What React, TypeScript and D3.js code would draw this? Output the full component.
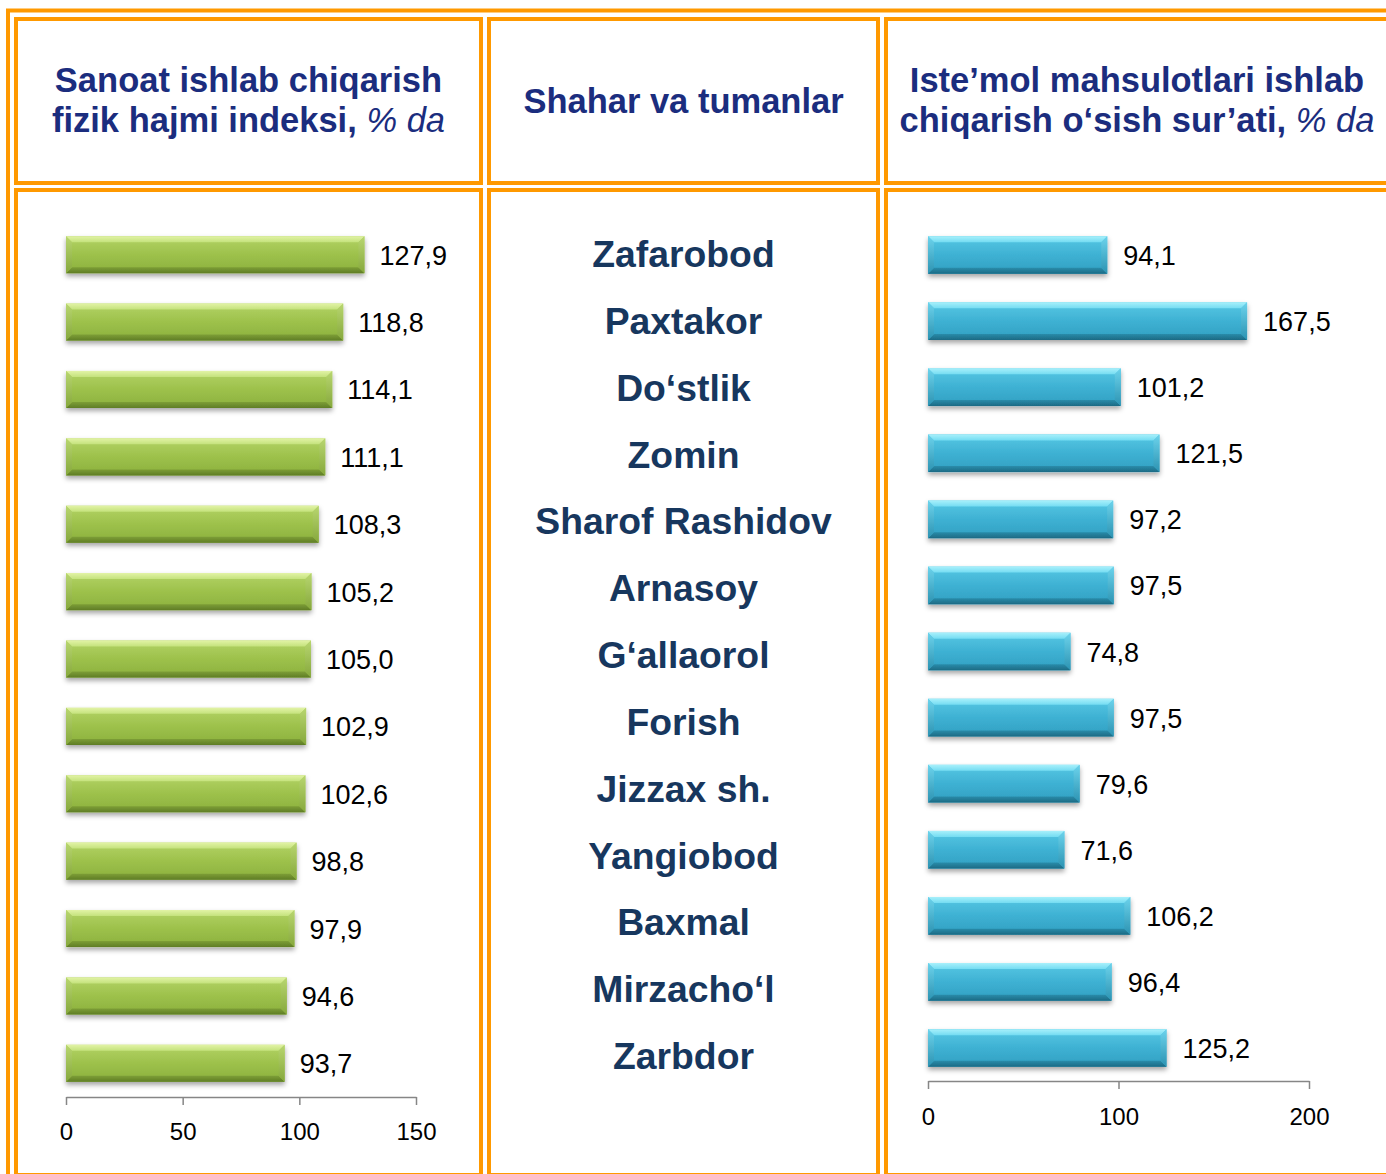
import { useEffect, useRef } from 'react';
import * as d3 from 'd3';

// districts, top to bottom
const districts = [
  'Zafarobod',
  'Paxtakor',
  'Do‘stlik',
  'Zomin',
  'Sharof Rashidov',
  'Arnasoy',
  'G‘allaorol',
  'Forish',
  'Jizzax sh.',
  'Yangiobod',
  'Baxmal',
  'Mirzacho‘l',
  'Zarbdor',
];

// Sanoat ishlab chiqarish fizik hajmi indeksi, % da
const industryIndex = [127.9, 118.8, 114.1, 111.1, 108.3, 105.2, 105.0, 102.9, 102.6, 98.8, 97.9, 94.6, 93.7];

// Iste'mol mahsulotlari ishlab chiqarish o'sish sur'ati, % da
const consumerGrowth = [94.1, 167.5, 101.2, 121.5, 97.2, 97.5, 74.8, 97.5, 79.6, 71.6, 106.2, 96.4, 125.2];

const leftTicks = [0, 50, 100, 150];
const rightTicks = [0, 100, 200];

const W = 1386;
const H = 1174;
const ORANGE = '#ff9900';
const HEAD = '#1b2d7e';
const NAME = '#17375e';
const FONT = '"Liberation Sans", Arial, sans-serif';

const fmt = (v: number) => v.toFixed(1).replace('.', ',');

interface BarProps {
  x0: number;
  x1: number;
  y: number;
  h: number;
  id: string;
}

// bevelled bar, like the Office "soft edge" style
function Bar({ x0, x1, y, h, id }: BarProps) {
  const b = 6;
  const w = x1 - x0;
  return (
    <g filter="url(#shadow)">
      <rect x={x0} y={y} width={w} height={h} fill={`url(#${id}-body)`} />
      <polygon points={`${x0},${y} ${x1},${y} ${x1 - b},${y + b} ${x0 + b},${y + b}`} fill={`url(#${id}-top)`} />
      <polygon
        points={`${x0},${y + h} ${x1},${y + h} ${x1 - b},${y + h - b} ${x0 + b},${y + h - b}`}
        fill={`url(#${id}-bot)`}
      />
      <polygon points={`${x1},${y} ${x1},${y + h} ${x1 - b},${y + h - b} ${x1 - b},${y + b}`} fill={`url(#${id}-side)`} />
      <polygon points={`${x0},${y} ${x0},${y + h} ${x0 + b},${y + h - b} ${x0 + b},${y + b}`} fill={`url(#${id}-side)`} />
    </g>
  );
}

function Grad({ id, stops }: { id: string; stops: [number, string][] }) {
  return (
    <linearGradient id={id} x1="0" y1="0" x2="0" y2="1">
      {stops.map(([o, c], i) => (
        <stop key={i} offset={o} stopColor={c} />
      ))}
    </linearGradient>
  );
}

export default function App() {
  const leftAxisRef = useRef<SVGGElement>(null);
  const rightAxisRef = useRef<SVGGElement>(null);

  const xL = d3.scaleLinear([0, 150], [66, 416]);
  const yL = d3.scaleBand(districts, [221, 1097]).paddingInner(0.45).paddingOuter(0.225);

  const xR = d3.scaleLinear([0, 200], [928, 1309]);
  const yR = d3.scaleBand(districts, [222, 1081]).paddingInner(0.43).paddingOuter(0.215);

  const yN = d3.scalePoint(districts, [254, 1056]);

  useEffect(() => {
    const style = (g: d3.Selection<SVGGElement, unknown, null, undefined>) => {
      g.select('.domain').attr('stroke', '#868686').attr('stroke-width', 1.5);
      g.selectAll('.tick line').attr('stroke', '#868686').attr('stroke-width', 1.5);
      g.selectAll('.tick text').attr('fill', '#000').attr('font-size', 24).attr('font-family', FONT);
    };
    if (leftAxisRef.current) {
      const g = d3.select(leftAxisRef.current);
      g.selectAll('*').remove();
      g.call(d3.axisBottom(xL).tickValues(leftTicks).tickSize(8).tickSizeOuter(0).tickPadding(18).tickFormat(d3.format('d')))
        .call(style);
    }
    if (rightAxisRef.current) {
      const g = d3.select(rightAxisRef.current);
      g.selectAll('*').remove();
      g.call(d3.axisBottom(xR).tickValues(rightTicks).tickSize(8).tickSizeOuter(0).tickPadding(19).tickFormat(d3.format('d')))
        .call(style);
    }
  }, []);

  const box = (x0: number, y0: number, x1: number, y1: number) => (
    <rect x={x0} y={y0} width={x1 - x0} height={y1 - y0} fill="#fff" stroke={ORANGE} strokeWidth={4} />
  );

  return (
    <svg
      width={W}
      height={H}
      viewBox={`0 0 ${W} ${H}`}
      style={{ position: 'absolute', left: 0, top: 0, display: 'block', background: '#fff' }}
    >
      <defs>
        <filter id="shadow" x="-5%" y="-30%" width="110%" height="180%">
          <feDropShadow dx="0" dy="3" stdDeviation="2.5" floodColor="#000" floodOpacity="0.35" />
        </filter>
        <Grad id="g-body" stops={[[0, '#b3d366'], [0.5, '#9dc14b'], [1, '#8bb03d']]} />
        <Grad id="g-top" stops={[[0, '#e2f3a6'], [1, '#c4e27c']]} />
        <Grad id="g-bot" stops={[[0, '#7d9e36'], [1, '#5f7d26']]} />
        <Grad id="g-side" stops={[[0, '#b8d670'], [1, '#86a83c']]} />
        <Grad id="b-body" stops={[[0, '#58c8e4'], [0.5, '#3eb1d3'], [1, '#319fc1']]} />
        <Grad id="b-top" stops={[[0, '#a8f0fb'], [1, '#74dcf2']]} />
        <Grad id="b-bot" stops={[[0, '#2a8caa'], [1, '#1c6a84']]} />
        <Grad id="b-side" stops={[[0, '#6cd3ec'], [1, '#2c93b2']]} />
      </defs>

      {/* outer frame */}
      <rect x={8} y={10.5} width={1400} height={1200} fill="none" stroke={ORANGE} strokeWidth={4} />

      {/* header boxes */}
      {box(16, 19, 481, 183)}
      {box(489, 19, 878, 183)}
      {box(886, 19, 1400, 183)}
      {/* body boxes */}
      {box(16, 190, 481, 1175)}
      {box(489, 190, 878, 1175)}
      {box(886, 190, 1400, 1175)}

      {/* headers */}
      <g fontFamily={FONT} fontSize={34.5} fill={HEAD} textAnchor="middle">
        <text x={248.5} y={92} fontWeight="bold">
          Sanoat ishlab chiqarish
        </text>
        <text x={248.5} y={132}>
          <tspan fontWeight="bold">fizik hajmi indeksi, </tspan>
          <tspan fontStyle="italic">% da</tspan>
        </text>
        <text x={683.5} y={113} fontWeight="bold">
          Shahar va tumanlar
        </text>
        <text x={1137} y={92} fontWeight="bold">
          Iste’mol mahsulotlari ishlab
        </text>
        <text x={1137} y={132}>
          <tspan fontWeight="bold">chiqarish o‘sish sur’ati, </tspan>
          <tspan fontStyle="italic">% da</tspan>
        </text>
      </g>

      {/* left chart */}
      <g>
        {districts.map((d, i) => (
          <g key={d}>
            <Bar x0={xL(0)} x1={xL(industryIndex[i])} y={yL(d)!} h={yL.bandwidth()} id="g" />
            <text
              x={xL(industryIndex[i]) + 15}
              y={yL(d)! + yL.bandwidth() / 2 + 10}
              fontFamily={FONT}
              fontSize={27}
              fill="#000"
            >
              {fmt(industryIndex[i])}
            </text>
          </g>
        ))}
        <g ref={leftAxisRef} transform="translate(0,1097)" />
      </g>

      {/* district names */}
      <g fontFamily={FONT} fontSize={37.3} fontWeight="bold" fill={NAME} textAnchor="middle">
        {districts.map((d) => (
          <text key={d} x={683.5} y={yN(d)! + 13}>
            {d}
          </text>
        ))}
      </g>

      {/* right chart */}
      <g>
        {districts.map((d, i) => (
          <g key={d}>
            <Bar x0={xR(0)} x1={xR(consumerGrowth[i])} y={yR(d)!} h={yR.bandwidth()} id="b" />
            <text
              x={xR(consumerGrowth[i]) + 16}
              y={yR(d)! + yR.bandwidth() / 2 + 10}
              fontFamily={FONT}
              fontSize={27}
              fill="#000"
            >
              {fmt(consumerGrowth[i])}
            </text>
          </g>
        ))}
        <g ref={rightAxisRef} transform="translate(0,1081)" />
      </g>
    </svg>
  );
}
